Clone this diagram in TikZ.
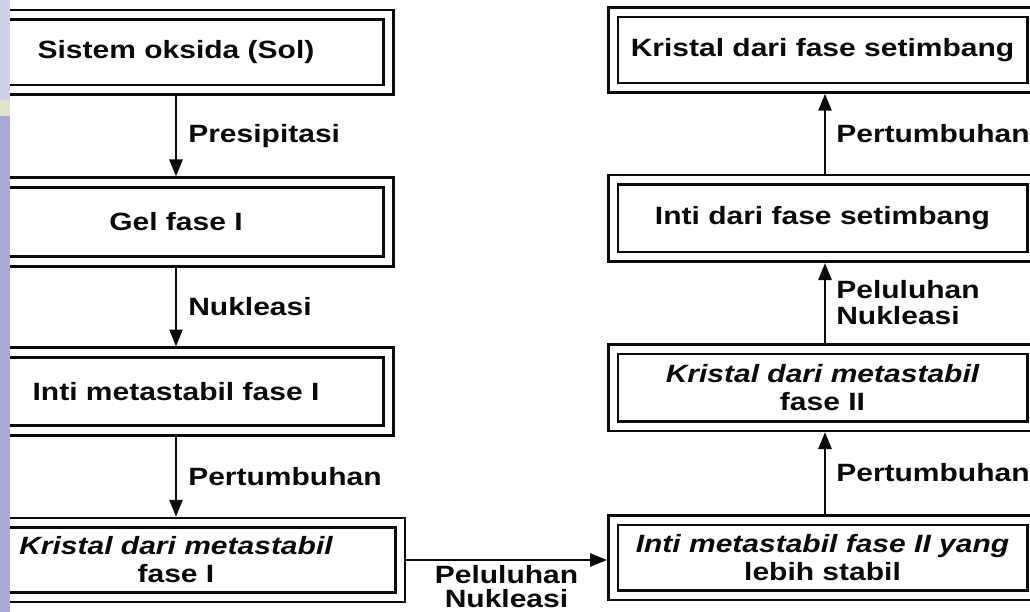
\documentclass[tikz,border=0pt]{standalone}
\usepackage{fontspec}
\setmainfont{Liberation Sans}[FakeStretch=1.2]
\usetikzlibrary{arrows.meta,positioning,calc}
\definecolor{ink}{HTML}{0A0A0A}
\definecolor{slide}{HTML}{A7A9D6}
\definecolor{slidelt}{HTML}{CFD0EA}
\definecolor{slidey}{HTML}{E2E4C6}
\tikzset{
  box/.style={draw=ink,line width=2.7pt,double,double distance=7pt,outer sep=6pt,inner sep=0pt,align=center,font=\fontsize{25}{28}\selectfont\bfseries,text=ink},
  boxl/.style={box,minimum width=425pt},
  boxr/.style={box,minimum width=419pt},
  lbl/.style={align=left,font=\fontsize{25}{26}\selectfont\bfseries,text=ink,inner sep=0pt},
  ar/.style={-{Triangle[length=17pt,width=13pt]},draw=ink,line width=2.6pt},
}
\begin{document}
\begin{tikzpicture}[x=1pt,y=-1pt]
  \useasboundingbox (0,0) rectangle (1030,612);
  % left column, going down
  \node[boxl,minimum height=75pt] (sol) at (176,52.5) {Sistem oksida (Sol)};
  \node[boxl,minimum height=79pt] (gel) at (176,222) {Gel fase I};
  \node[boxl,minimum height=78pt] (intiI) at (176,391.5) {Inti metastabil fase I};
  \node[boxl,minimum width=448pt,minimum height=74.5pt] (kristI) at (176,560) {{\itshape Kristal dari metastabil}\\fase I};
  \draw[ar] (sol) -- node[lbl,anchor=west,xshift=11pt] (tPres) {Presipitasi} (gel);
  \draw[ar] (gel) -- node[lbl,anchor=west,xshift=11pt] (tNuk) {Nukleasi} (intiI);
  \draw[ar] (intiI) -- node[lbl,anchor=west,xshift=11pt] (tPert) {Pertumbuhan} (kristI);
  % right column, going up
  \node[boxr,minimum height=75.5pt] (kristS) at (822.5,50) {Kristal dari fase setimbang};
  \node[boxr,minimum height=77pt] (intiS) at (822.5,218.5) {Inti dari fase setimbang};
  \node[boxr,minimum height=77pt] (kristII) at (822.5,387.5) {{\itshape Kristal dari metastabil}\\fase II};
  \node[boxr,minimum height=75pt] (intiII) at (822.5,557.5) {{\itshape Inti metastabil fase II yang}\\lebih stabil};
  \draw[ar] ([xshift=2.5pt]intiII.north) -- node[lbl,anchor=west,xshift=10pt] (tPertA) {Pertumbuhan} ([xshift=2.5pt]kristII.south);
  \draw[ar] ([xshift=2.5pt]kristII.north) -- node[lbl,anchor=west,xshift=10pt] (tPelA) {Peluluhan\\Nukleasi} ([xshift=2.5pt]intiS.south);
  \draw[ar] ([xshift=2.5pt]intiS.north) -- node[lbl,anchor=west,xshift=10pt] (tPertB) {Pertumbuhan} ([xshift=2.5pt]kristS.south);
  % across
  \draw[ar] (kristI.east) -- node[lbl,below=4pt,align=center,font=\fontsize{25}{24}\selectfont\bfseries] (tPel) {Peluluhan\\Nukleasi} (kristI.east -| intiII.west);
  % slide edge
  \fill[slidelt] (0,0) rectangle (10,100);
  \fill[slidey] (0,100) rectangle (10,116);
  \fill[slide] (0,116) rectangle (10,612);
\end{tikzpicture}
\end{document}
